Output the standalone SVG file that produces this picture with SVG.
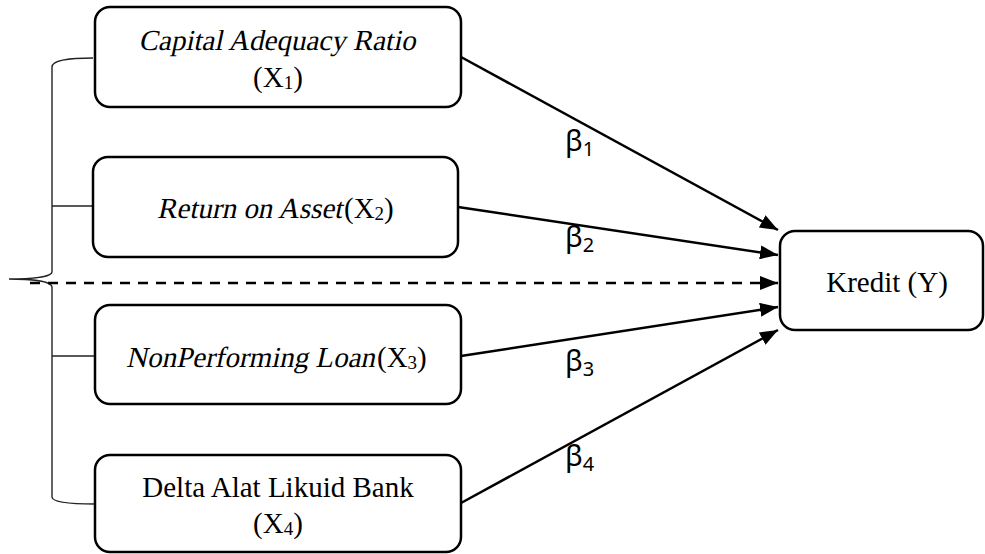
<svg xmlns="http://www.w3.org/2000/svg" width="985" height="554" viewBox="0 0 985 554">
  <style>
    .box { fill: #ffffff; stroke: #000000; stroke-width: 2.5; }
    .lbl { font-family: "Liberation Serif", "Times New Roman", serif; font-size: 29px; fill: #000000; }
    .sub { font-size: 19px; }
    .beta { font-family: "Noto Sans", "DejaVu Sans", sans-serif; font-size: 29px; fill: #000000; }
    .bsub { font-size: 20px; }
    .edge { stroke: #000000; stroke-width: 2.5; fill: none; }
    .dash { stroke-dasharray: 10 8; }
    .brace { stroke: #222222; stroke-width: 1.4; fill: none; }
  </style>
  <defs>
    <marker id="arrow" viewBox="0 0 18 14" refX="18" refY="7" markerWidth="18" markerHeight="14" markerUnits="userSpaceOnUse" orient="auto">
      <path d="M0,0 L18,7 L0,14 z" fill="#000000"/>
    </marker>
  </defs>

  <!-- curly brace grouping the independent variables -->
  <g id="brace">
    <path class="brace" d="M93,58 C70,58 52,60 52,67 L52,272 C52,277 30,279 9,279 C30,279 52,281 52,287 L52,497 C52,502 70,504 95,504"/>
    <line class="brace" x1="52" y1="206" x2="93" y2="206"/>
    <line class="brace" x1="52" y1="356" x2="95" y2="356"/>
  </g>

  <g id="connectors">
    <line class="edge" x1="461" y1="57" x2="778" y2="230" marker-end="url(#arrow)"/>
    <line class="edge" x1="458" y1="207" x2="778" y2="255" marker-end="url(#arrow)"/>
    <line class="edge dash" x1="30" y1="283" x2="778" y2="283" marker-end="url(#arrow)"/>
    <line class="edge" x1="461" y1="356" x2="778" y2="307" marker-end="url(#arrow)"/>
    <line class="edge" x1="461" y1="503" x2="778" y2="330" marker-end="url(#arrow)"/>
    <text class="beta" x="565" y="151">β<tspan class="bsub" dy="5">1</tspan></text>
    <text class="beta" x="565" y="247">β<tspan class="bsub" dy="5">2</tspan></text>
    <text class="beta" x="565" y="371">β<tspan class="bsub" dy="5">3</tspan></text>
    <text class="beta" x="565" y="466">β<tspan class="bsub" dy="5">4</tspan></text>
  </g>

  <!-- italic names are slanted serif text (skewed about their baseline) -->
  <g id="car">
    <rect class="box" x="95" y="7" width="366" height="100" rx="15"/>
    <text class="lbl" transform="translate(0,50) skewX(-12)" x="277" y="0" text-anchor="middle">Capital Adequacy Ratio</text>
    <text class="lbl" x="278" y="87" text-anchor="middle">(X<tspan class="sub" dy="2">1</tspan><tspan dy="-2">)</tspan></text>
  </g>

  <g id="roa">
    <rect class="box" x="93" y="157" width="365" height="100" rx="15"/>
    <text class="lbl" transform="translate(0,218) skewX(-12)" x="157" y="0">Return on Asset</text>
    <text class="lbl" x="344" y="218">(X<tspan class="sub" dy="2">2</tspan><tspan dy="-2">)</tspan></text>
  </g>

  <g id="npl">
    <rect class="box" x="95" y="305" width="366" height="99" rx="15"/>
    <text class="lbl" transform="translate(0,367) skewX(-12)" x="126" y="0">NonPerforming Loan</text>
    <text class="lbl" x="377" y="367">(X<tspan class="sub" dy="2">3</tspan><tspan dy="-2">)</tspan></text>
  </g>

  <g id="alb">
    <rect class="box" x="95" y="455" width="366" height="97" rx="15"/>
    <text class="lbl" x="278" y="497" text-anchor="middle">Delta Alat Likuid Bank</text>
    <text class="lbl" x="278" y="533" text-anchor="middle">(X<tspan class="sub" dy="2">4</tspan><tspan dy="-2">)</tspan></text>
  </g>

  <g id="kredit">
    <rect class="box" x="780" y="231" width="203" height="99" rx="15"/>
    <text class="lbl" x="887" y="292" text-anchor="middle">Kredit (Y)</text>
  </g>
</svg>
